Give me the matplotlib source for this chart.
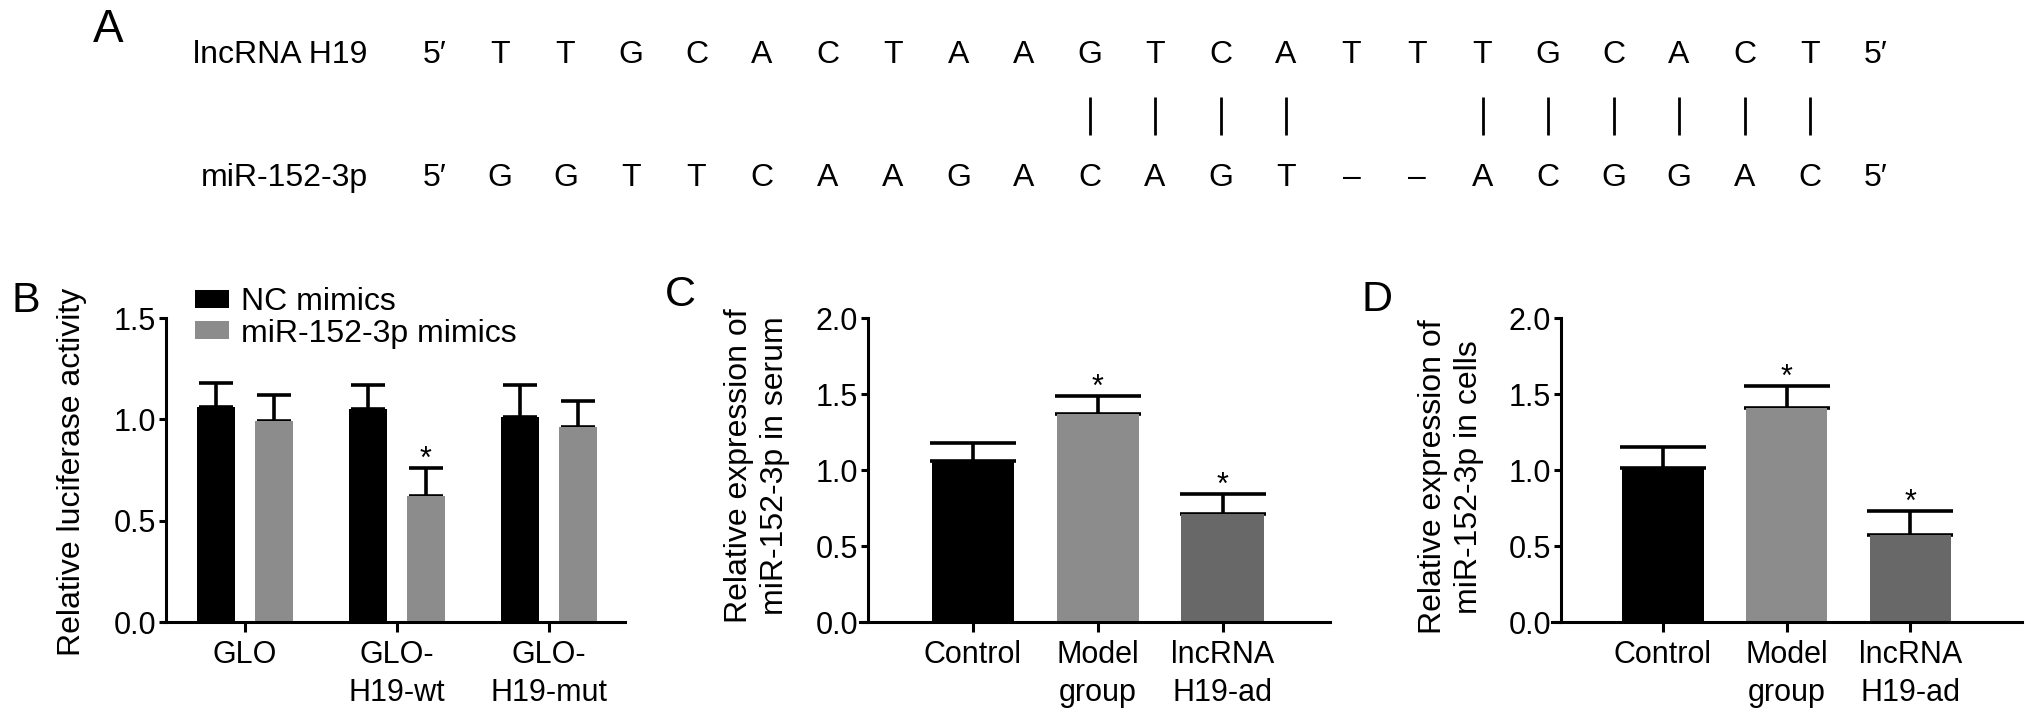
import numpy as np
import matplotlib
matplotlib.use("Agg")
import matplotlib.pyplot as plt

plt.rcParams['font.family'] = ['Liberation Sans', 'DejaVu Sans']

# ---- panel A: sequence alignment ----
top_label = "lncRNA H19"
bottom_label = "miR-152-3p"
top_seq = list("TTGCACTAAGTCATTTGCACT")
bottom_seq = list("GGTTCAAGACAGT") + ["\u2013", "\u2013"] + list("ACGGAC")
pair_idx = [9, 10, 11, 12, 15, 16, 17, 18, 19, 20]

# ---- panel B: luciferase ----
b_groups = ["GLO", "GLO-\nH19-wt", "GLO-\nH19-mut"]
b_series = ["NC mimics", "miR-152-3p mimics"]
b_nc = [1.06, 1.05, 1.01]
b_nc_err = [0.12, 0.12, 0.16]
b_mir = [0.99, 0.62, 0.96]
b_mir_err = [0.13, 0.14, 0.13]
b_mir_sig = [False, True, False]

# ---- panels C / D ----
cd_groups = ["Control", "Model\ngroup", "lncRNA\nH19-ad"]
c_vals = [1.06, 1.37, 0.71]
c_err = [0.12, 0.12, 0.13]
c_sig = [False, True, True]
d_vals = [1.01, 1.41, 0.57]
d_err = [0.14, 0.14, 0.16]
d_sig = [False, True, True]

BLACK = "#000000"
GRAY = "#8c8c8c"
DARK = "#686868"

W, H = 2032, 726
fig = plt.figure(figsize=(W / 100, H / 100), dpi=100)


def px_axes(left, right, top, bottom):
    return fig.add_axes([left / W, 1 - bottom / H, (right - left) / W, (bottom - top) / H])


# panel A
axA = px_axes(0, W, 0, 230)
axA.axis("off")
step, x0 = 65.5, 500
axA.set_xlim(-x0 / step, (W - x0) / step)
axA.set_ylim((230 - 55) / 123, -55 / 123)
fsA = 23
for row, (lab, seq) in enumerate([(top_label, top_seq), (bottom_label, bottom_seq)]):
    axA.text(-2.02, row, lab, ha="right", va="center", fontsize=fsA)
    axA.text(-1, row, "5\u2032", ha="center", va="center", fontsize=fsA)
    axA.text(len(seq), row, "5\u2032", ha="center", va="center", fontsize=fsA)
    for i, b in enumerate(seq):
        axA.text(i, row, b, ha="center", va="center", fontsize=fsA)
axA.vlines(pair_idx, 0.34, 0.65, color="black", lw=2)


def style(ax, ymax, yticks, xlim, spine_ext):
    ax.spines["top"].set_visible(False)
    ax.spines["right"].set_visible(False)
    ax.spines["left"].set_linewidth(2.2)
    ax.spines["bottom"].set_linewidth(2.2)
    ax.set_xlim(*xlim)
    ax.spines["bottom"].set_bounds(xlim[0] - spine_ext, xlim[1])
    ax.set_ylim(0, ymax)
    ax.set_yticks(yticks)
    ax.yaxis.set_major_formatter("{x:.1f}")
    ax.tick_params(axis="y", length=5, width=2.2, pad=2, labelsize=22)
    ax.tick_params(axis="x", length=7, width=2.2, pad=6, labelsize=22)


def stars(ax, xs, tops, sig):
    for x, t, s in zip(xs, tops, sig):
        if s:
            ax.annotate("*", (x, t), xytext=(0, 0), textcoords="offset points",
                        ha="center", va="baseline", fontsize=22)


# panel B
axB = px_axes(166, 625, 318, 622)
xb = np.arange(len(b_groups))
bw, off = 0.253, 0.19
hb1 = axB.bar(xb - off, b_nc, bw, color=BLACK, zorder=2)
hb2 = axB.bar(xb + off, b_mir, bw, color=GRAY, zorder=2)
axB.errorbar(xb - off, b_nc, yerr=[np.zeros(3), b_nc_err], fmt="none", ecolor="black",
             elinewidth=2.6, capsize=12.5, capthick=2.6, zorder=1)
axB.errorbar(xb + off, b_mir, yerr=[np.zeros(3), b_mir_err], fmt="none", ecolor="black",
             elinewidth=2.6, capsize=12.5, capthick=2.6, zorder=1)
style(axB, 1.5, [0.0, 0.5, 1.0, 1.5], (-0.52, 2.5), 0.026)
axB.set_xticks(xb, b_groups, linespacing=1.35)
stars(axB, xb + off, np.add(b_mir, b_mir_err), b_mir_sig)
axB.legend([hb1, hb2], b_series, loc="upper left", bbox_to_anchor=(195 / W, 1 - 287 / H),
           bbox_transform=fig.transFigure, frameon=False, fontsize=23, handlelength=1.05,
           handleheight=0.5, handletextpad=0.4, labelspacing=0.05, borderpad=0,
           borderaxespad=0)
fig.text(72 / W, 1 - 472 / H, "Relative luciferase activity", rotation=90,
         ha="center", va="center", fontsize=23)


def single(ax, vals, err, sig, xlim, ext):
    x = np.arange(len(cd_groups))
    ax.bar(x, vals, 0.66, color=[BLACK, GRAY, DARK], zorder=2)
    ax.errorbar(x, vals, yerr=[np.zeros(len(x)), err], fmt="none", ecolor="black",
                elinewidth=2.6, capsize=31, capthick=2.6, zorder=1)
    style(ax, 2.0, [0.0, 0.5, 1.0, 1.5, 2.0], xlim, ext)
    ax.set_xticks(x, cd_groups, linespacing=1.35)
    stars(ax, x, np.add(vals, err), sig)


axC = px_axes(868, 1330, 318, 622)
single(axC, c_vals, c_err, c_sig, (-0.84, 2.86), 0.064)
fig.text(757 / W, 1 - 466 / H, "Relative expression of\nmiR-152-3p in serum", rotation=90,
         ha="center", va="center", fontsize=23, linespacing=1.3)

axD = px_axes(1561, 2022, 318, 622)
single(axD, d_vals, d_err, d_sig, (-0.82, 2.9), 0.073)
fig.text(1451 / W, 1 - 477 / H, "Relative expression of\nmiR-152-3p in cells", rotation=90,
         ha="center", va="center", fontsize=23, linespacing=1.3)

# panel letters
fig.text(108 / W, 1 - 30 / H, "A", ha="center", va="center", fontsize=33)
fig.text(26 / W, 1 - 301 / H, "B", ha="center", va="center", fontsize=31)
fig.text(680 / W, 1 - 295 / H, "C", ha="center", va="center", fontsize=31)
fig.text(1377 / W, 1 - 300 / H, "D", ha="center", va="center", fontsize=31)

fig.savefig("out.png", dpi=100)
